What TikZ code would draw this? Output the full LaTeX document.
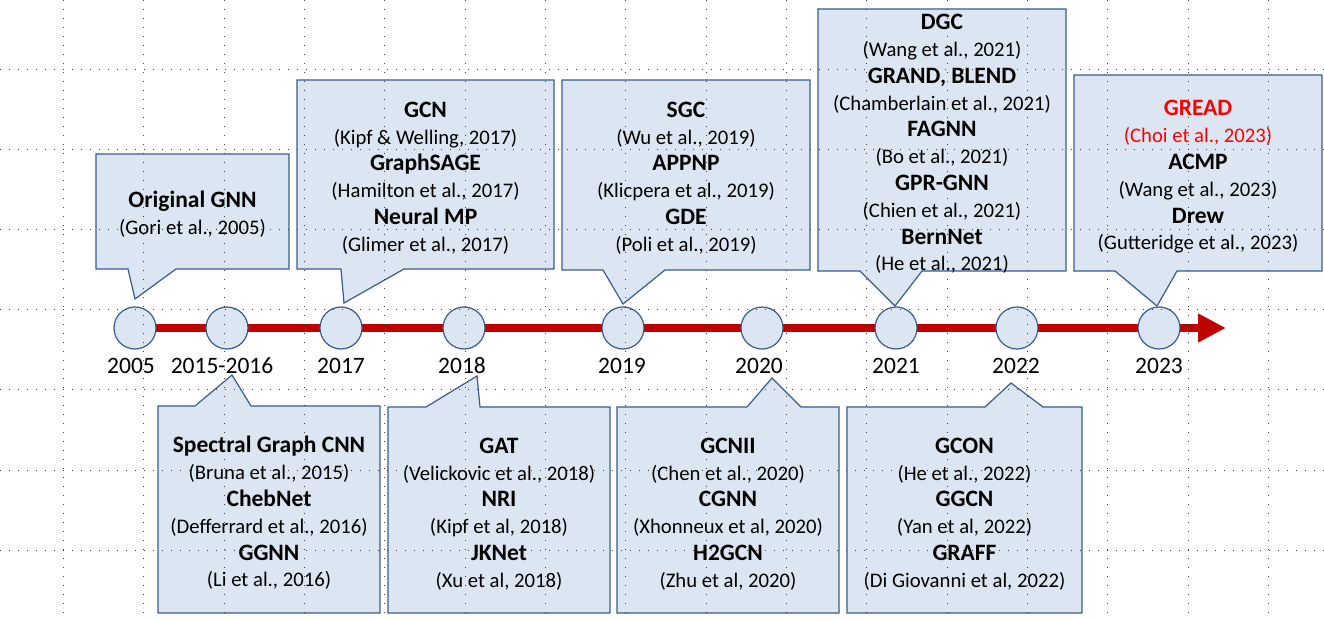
\documentclass[tikz,border=0pt]{standalone}
\usepackage{fontspec}
\setmainfont{Carlito}
\usepackage{xcolor}
\usepackage{tikz}
\usetikzlibrary{arrows.meta}
\definecolor{boxfill}{HTML}{DCE6F2}
\definecolor{boxline}{HTML}{385D8A}
\definecolor{axisred}{HTML}{C00000}
\definecolor{greadred}{HTML}{FF0000}
\newcommand{\mtitle}[1]{{\fontsize{23.5}{26.8}\selectfont\bfseries #1}}

\begin{document}
\begin{tikzpicture}[x=1pt, y=-1pt,
  callout/.style={draw=boxline, fill=boxfill, line width=1.2pt, line join=miter},
  entry/.style={align=center, inner sep=0pt, font=\fontsize{20.7}{26.8}\selectfont},
  yearcirc/.style={circle, draw=boxline, fill=boxfill, line width=1.2pt, minimum size=42pt, inner sep=0pt},
  yearlab/.style={font=\fontsize{23.5}{26}\selectfont, inner sep=0pt},
  timeline/.style={axisred, line width=8.5pt, -{Triangle[length=28pt, width=27pt]}},
  gridline/.style={black!75, line width=0.9pt, dash pattern=on 0.9pt off 8.1pt}]
\fill[white] (0,0) rectangle (1324,620);
\useasboundingbox (0,0) rectangle (1324,620);

% time axis
\coordinate (tlstart) at (135,328);
\coordinate (tlend) at (1226,328);
\draw[timeline] (tlstart) -- (tlend);
\foreach \id/\cx/\lx/\yr in {2005/135/131/2005, 2016/227/222/2015-2016, 2017/341/341/2017,
    2018/464/462/2018, 2019/623/622/2019, 2020/762/759/2020, 2021/896/896/2021,
    2022/1017/1016/2022, 2023/1159/1159/2023} {
  \node[yearcirc] (c\id) at (\cx,328) {};
  \node[yearlab] (l\id) at (\lx,366) {\yr};
}

% callouts above the axis (tail at the bottom)
\foreach \xa/\ya/\xb/\yb/\ba/\bb/\tx/\ty in {96/154/289/269/128/176/135/299,
    297/80/554/269/341/404/344/303, 562/80/810/270/603/665/623/304,
    818/9/1066/271/860/922/895/306, 1074/75/1322/271/1115/1177/1157/306}
  \draw[callout] (\xa,\ya) -- (\xb,\ya) -- (\xb,\yb) -- (\bb,\yb) -- (\tx,\ty)
    -- (\ba,\yb) -- (\xa,\yb) -- cycle;
% callouts below the axis (tail at the top)
\foreach \xa/\ya/\xb/\yb/\ba/\bb/\tx/\ty in {158/406/380/613/195/251/232/375,
    388/407/610/613/426/480/477/376, 617/407/839/613/747/801/772/378,
    847/407/1082/613/985/1043/1011/383}
  \draw[callout] (\xa,\yb) -- (\xb,\yb) -- (\xb,\ya) -- (\bb,\ya) -- (\tx,\ty)
    -- (\ba,\ya) -- (\xa,\ya) -- cycle;

\node[entry] (gnn) at (192.5,214.5) {\mtitle{Original GNN}\\(Gori et al., 2005)};
\node[entry] (gcn) at (425.5,178) {\mtitle{GCN}\\(Kipf \& Welling, 2017)\\
  \mtitle{GraphSAGE}\\(Hamilton et al., 2017)\\\mtitle{Neural MP}\\(Glimer et al., 2017)};
\node[entry] (sgc) at (686,178) {\mtitle{SGC}\\(Wu et al., 2019)\\
  \mtitle{APPNP}\\(Klicpera et al., 2019)\\\mtitle{GDE}\\(Poli et al., 2019)};
\node[entry] (dgc) at (942,144) {\mtitle{DGC}\\(Wang et al., 2021)\\
  \mtitle{GRAND, BLEND}\\(Chamberlain et al., 2021)\\\mtitle{FAGNN}\\(Bo et al., 2021)\\
  \mtitle{GPR-GNN}\\(Chien et al., 2021)\\\mtitle{BernNet}\\(He et al., 2021)};
\node[entry] (gread) at (1198,177) {\textcolor{greadred}{\mtitle{GREAD}}\\
  \textcolor{greadred}{(Choi et al., 2023)}\\\mtitle{ACMP}\\(Wang et al., 2023)\\
  \mtitle{Drew}\\(Gutteridge et al., 2023)};
\node[entry] (spec) at (269,513) {\mtitle{Spectral Graph CNN}\\(Bruna et al., 2015)\\
  \mtitle{ChebNet}\\(Defferrard et al., 2016)\\\mtitle{GGNN}\\(Li et al., 2016)};
\node[entry] (gat) at (499,514) {\mtitle{GAT}\\(Velickovic et al., 2018)\\
  \mtitle{NRI}\\(Kipf et al, 2018)\\\mtitle{JKNet}\\(Xu et al, 2018)};
\node[entry] (gcnii) at (728,514) {\mtitle{GCNII}\\(Chen et al., 2020)\\
  \mtitle{CGNN}\\(Xhonneux et al, 2020)\\\mtitle{H2GCN}\\(Zhu et al, 2020)};
\node[entry] (gcon) at (964.5,514) {\mtitle{GCON}\\(He et al., 2022)\\
  \mtitle{GGCN}\\(Yan et al, 2022)\\\mtitle{GRAFF}\\(Di Giovanni et al, 2022)};

% dotted grid on top
\foreach \k in {0,...,15}
  \draw[gridline] ({63.5+80.33*\k},0) -- ({63.5+80.33*\k},620);
\foreach \k in {0,...,6}
  \draw[gridline] (0,{69+80.2*\k}) -- (1324,{69+80.2*\k});
\end{tikzpicture}
\end{document}
